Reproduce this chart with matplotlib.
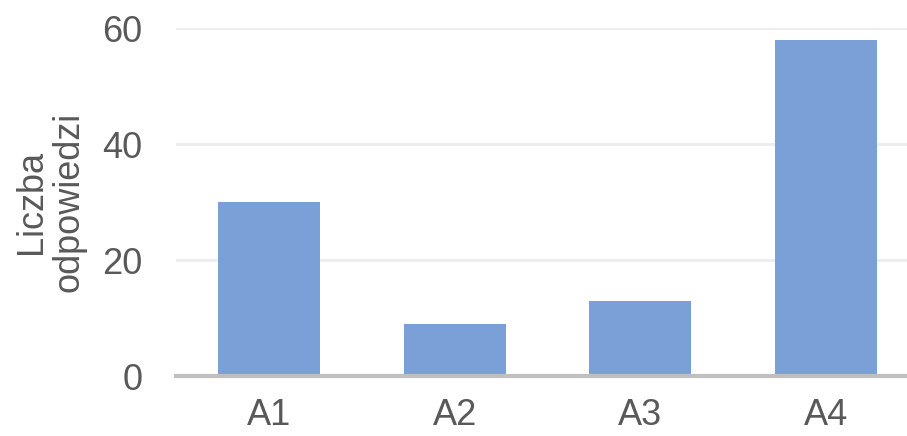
import matplotlib as mpl
mpl.use('agg')
import matplotlib.pyplot as plt
import numpy as np

plt.rcParams['font.family'] = ['Liberation Sans', 'DejaVu Sans']

categories = ["A1", "A2", "A3", "A4"]
counts = [30, 9, 13, 58]

TEXT = "#595959"

fig = plt.figure(figsize=(9.07, 4.36), dpi=100)
ax = fig.add_axes([176 / 907, 1 - 376 / 436, 743 / 907, 348 / 436])

x = np.arange(len(categories))
ax.bar(x, counts, 0.55, color="#7B9FD7", zorder=3)

ax.set_xlim(-0.5, len(categories) - 0.5)
ax.set_ylim(0, 60)
ax.set_yticks([0, 20, 40, 60])
ax.set_xticks(x)
ax.set_xticklabels(categories)
ax.grid(axis="y", color="#EDEDED", linewidth=2, zorder=0)
ax.tick_params(axis="both", length=0, labelsize=26, labelcolor=TEXT)
ax.tick_params(axis="y", pad=24)
ax.tick_params(axis="x", pad=16)

for side in ["top", "right", "left"]:
    ax.spines[side].set_visible(False)
ax.spines["bottom"].set_color("#BFBFBF")
ax.spines["bottom"].set_linewidth(3)
ax.spines["bottom"].set_zorder(4)

ax.set_ylabel("Liczba\nodpowiedzi", fontsize=26, color=TEXT, linespacing=1.12)
ax.yaxis.set_label_coords(-0.12, 0.5)

fig.savefig("out.png", dpi=100)
